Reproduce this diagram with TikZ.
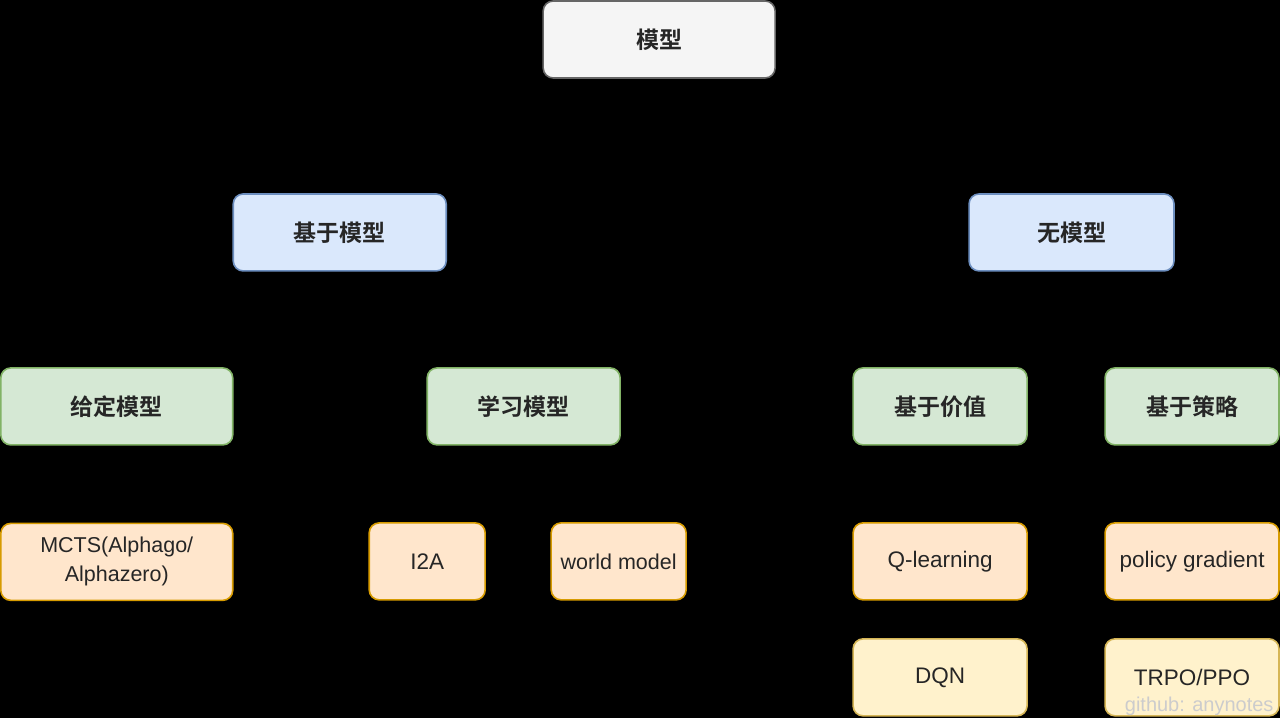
\documentclass[tikz,border=0pt]{standalone}
\usepackage{fontspec}
\usetikzlibrary{backgrounds}
\setmainfont{Liberation Sans}
\newfontfamily\cjk{Noto Sans CJK SC}[BoldFont={Noto Sans CJK SC Bold}]
\definecolor{greyfill}{HTML}{F5F5F5}
\definecolor{greyline}{HTML}{666666}
\definecolor{bluefill}{HTML}{DAE8FC}
\definecolor{blueline}{HTML}{6C8EBF}
\definecolor{greenfill}{HTML}{D5E8D4}
\definecolor{greenline}{HTML}{82B366}
\definecolor{orangefill}{HTML}{FFE6CC}
\definecolor{orangeline}{HTML}{D79B00}
\definecolor{yellowfill}{HTML}{FFF2CC}
\definecolor{yellowline}{HTML}{D6B656}
\begin{document}
\begin{tikzpicture}[x=1pt,y=-1pt,
    box/.style={draw, rounded corners=10pt, line width=1.6pt, inner sep=0pt,
      minimum height=77pt, align=center, text=black!85,
      font=\fontsize{22.5}{26}\selectfont},
    top/.style={box, fill=greyfill, draw=greyline, font=\fontsize{23}{26}\selectfont\cjk\bfseries},
    kind/.style={box, fill=bluefill, draw=blueline, font=\fontsize{23}{26}\selectfont\cjk\bfseries},
    sub/.style={box, fill=greenfill, draw=greenline, font=\fontsize{23}{26}\selectfont\cjk\bfseries},
    algo/.style={box, fill=orangefill, draw=orangeline},
    deep/.style={box, fill=yellowfill, draw=yellowline},
    link/.style={draw=black, line width=1.6pt}]

    \node[top, minimum width=232pt] (model) at (659,39.5) {模型};
    \node[kind, minimum width=213pt] (based) at (339.5,232.5) {基于模型};
    \node[kind, minimum width=205pt] (free) at (1071.5,232.5) {无模型};

    \node[sub, minimum width=232pt] (given) at (116.5,406.5) {给定模型};
    \node[sub, minimum width=193pt] (learn) at (523.5,406.5) {学习模型};
    \node[sub, minimum width=174pt] (value) at (940,406.5) {基于价值};
    \node[sub, minimum width=174pt] (policy) at (1192,406.5) {基于策略};

    \node[algo, minimum width=232pt, font=\fontsize{21.5}{29}\selectfont] (mcts) at (116.5,562) {MCTS(Alphago/\\Alphazero)};
    \node[algo, minimum width=116pt] (i2a) at (427,561.5) {I2A};
    \node[algo, minimum width=135pt, font=\fontsize{21.5}{26}\selectfont] (world) at (618.5,561.5) {world model};
    \node[algo, minimum width=174pt] (qlearn) at (940,561.5) {Q-learning};
    \node[algo, minimum width=174pt] (pg) at (1192,561.5) {policy gradient};

    \node[deep, minimum width=174pt] (dqn) at (940,677.5) {DQN};
    \node[deep, minimum width=174pt] (trpo) at (1192,677.5) {TRPO/PPO};

    \node[anchor=base east, text=white!80!black, font=\fontsize{20}{24}\selectfont] (mark) at (1277,712) {github: anynotes};

    \begin{pgfonlayer}{background}
    \fill[black] (0,0) rectangle (1280,718);
    % links are black, as in the drawing
    \draw[link] (model.south) -- ++(0,58) -| (based.north);
    \draw[link] (model.south) -- ++(0,58) -| (free.north);
    \draw[link] (based.south) -- ++(0,48.5) -| (given.north);
    \draw[link] (based.south) -- ++(0,48.5) -| (learn.north);
    \draw[link] (free.south) -- ++(0,48.5) -| (value.north);
    \draw[link] (free.south) -- ++(0,48.5) -| (policy.north);
    \draw[link] (given.south) -- (mcts.north);
    \draw[link] (learn.south) -- ++(0,39) -| (i2a.north);
    \draw[link] (learn.south) -- ++(0,39) -| (world.north);
    \draw[link] (value.south) -- (qlearn.north);
    \draw[link] (policy.south) -- (pg.north);
    \draw[link] (qlearn.south) -- (dqn.north);
    \draw[link] (pg.south) -- (trpo.north);
    \end{pgfonlayer}
\end{tikzpicture}
\end{document}
